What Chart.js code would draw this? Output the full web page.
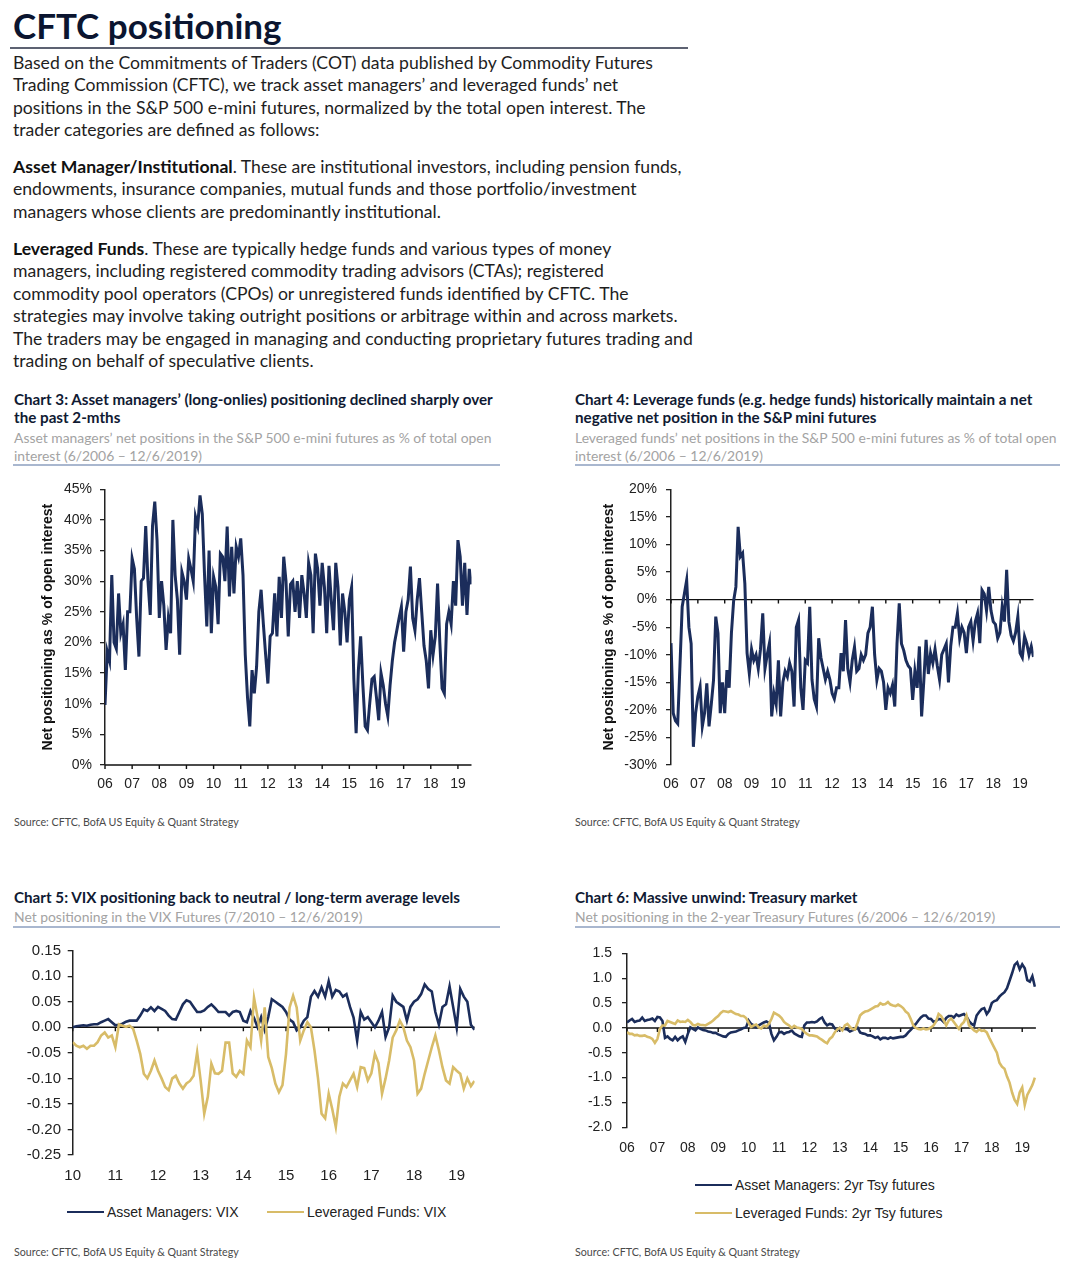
<!DOCTYPE html>
<html>
<head>
<meta charset="utf-8">
<script src="https://cdn.jsdelivr.net/npm/chart.js@4.4.1/dist/chart.umd.min.js"></script>
<style>
  body { margin: 0; background: #fff; }
  #page { position: relative; width: 1084px; height: 1280px; overflow: hidden; font-family: Lato, "Open Sans", sans-serif; color: #1a1a1a; }
  .t { position: absolute; white-space: nowrap; }
  .title { left: 13px; top: 6px; font-size: 35px; line-height: 38px; font-weight: 700; color: #0b1530; }
  .rule { position: absolute; height: 2px; background: #5d6272; }
  .body { left: 13px; font-size: 17.6px; line-height: 22.4px; color: #1e1e1e; }
  .body b { font-weight: 700; color: #111; }
  .ch { font-size: 15.2px; line-height: 18px; font-weight: 700; color: #101a33; }
  .sub { font-size: 13.9px; line-height: 18px; color: #a3a3a3; }
  .thin { position: absolute; height: 1.5px; background: #a9b7cf; }
  .src { font-size: 10.7px; color: #4a4a4a; }
  canvas { position: absolute; }
  .leg { position: absolute; white-space: nowrap; display: flex; align-items: center; font-family: "Liberation Sans", Arial, sans-serif; font-size: 14px; line-height: 18px; color: #222; }
  .sw { display: inline-block; width: 37px; height: 2.5px; margin-right: 3px; }
</style>
</head>
<body>
<div id="page">
  <div class="t title">CFTC positioning</div>
  <div class="rule" style="left:10px;top:47px;width:678px;"></div>

  <div class="t body" style="top:52px;">Based on the Commitments of Traders (COT) data published by Commodity Futures<br>Trading Commission (CFTC), we track asset managers’ and leveraged funds’ net<br>positions in the S&amp;P 500 e-mini futures, normalized by the total open interest. The<br>trader categories are defined as follows:</div>
  <div class="t body" style="top:156px;"><b>Asset Manager/Institutional</b>. These are institutional investors, including pension funds,<br>endowments, insurance companies, mutual funds and those portfolio/investment<br>managers whose clients are predominantly institutional.</div>
  <div class="t body" style="top:238px;"><b>Leveraged Funds</b>. These are typically hedge funds and various types of money<br>managers, including registered commodity trading advisors (CTAs); registered<br>commodity pool operators (CPOs) or unregistered funds identified by CFTC. The<br>strategies may involve taking outright positions or arbitrage within and across markets.<br>The traders may be engaged in managing and conducting proprietary futures trading and<br>trading on behalf of speculative clients.</div>

  <div class="t ch" style="left:14px;top:390px;">Chart 3: Asset managers’ (long-onlies) positioning declined sharply over<br>the past 2-mths</div>
  <div class="t sub" style="left:14px;top:429px;">Asset managers’ net positions in the S&amp;P 500 e-mini futures as % of total open<br>interest (6/2006 – 12/6/2019)</div>
  <div class="thin" style="left:13px;top:464px;width:487px;"></div>

  <div class="t ch" style="left:575px;top:390px;">Chart 4: Leverage funds (e.g. hedge funds) historically maintain a net<br>negative net position in the S&amp;P mini futures</div>
  <div class="t sub" style="left:575px;top:429px;">Leveraged funds’ net positions in the S&amp;P 500 e-mini futures as % of total open<br>interest (6/2006 – 12/6/2019)</div>
  <div class="thin" style="left:575px;top:464px;width:485px;"></div>

  <canvas id="c3" width="455" height="330" style="left:28px;top:470px;"></canvas>
  <canvas id="c4" width="455" height="330" style="left:590px;top:470px;"></canvas>

  <div class="t src" style="left:14px;top:815px;">Source: CFTC, BofA US Equity &amp; Quant Strategy</div>
  <div class="t src" style="left:575px;top:815px;">Source: CFTC, BofA US Equity &amp; Quant Strategy</div>

  <div class="t ch" style="left:14px;top:888px;">Chart 5: VIX positioning back to neutral / long-term average levels</div>
  <div class="t sub" style="left:14px;top:908px;">Net positioning in the VIX Futures (7/2010 – 12/6/2019)</div>
  <div class="thin" style="left:13px;top:926px;width:487px;"></div>

  <div class="t ch" style="left:575px;top:888px;">Chart 6: Massive unwind: Treasury market</div>
  <div class="t sub" style="left:575px;top:908px;">Net positioning in the 2-year Treasury Futures (6/2006 – 12/6/2019)</div>
  <div class="thin" style="left:575px;top:926px;width:485px;"></div>

  <canvas id="c5" width="475" height="255" style="left:10px;top:935px;"></canvas>
  <canvas id="c6" width="475" height="230" style="left:570px;top:935px;"></canvas>

  <div class="leg" style="left:67px;top:1203px;"><span class="sw" style="background:#1b2d5b"></span>Asset Managers: VIX</div>
  <div class="leg" style="left:267px;top:1203px;"><span class="sw" style="background:#d8bc68"></span>Leveraged Funds: VIX</div>
  <div class="leg" style="left:695px;top:1176px;"><span class="sw" style="background:#1b2d5b"></span>Asset Managers: 2yr Tsy futures</div>
  <div class="leg" style="left:695px;top:1204px;"><span class="sw" style="background:#d8bc68"></span>Leveraged Funds: 2yr Tsy futures</div>

  <div class="t src" style="left:14px;top:1245px;">Source: CFTC, BofA US Equity &amp; Quant Strategy</div>
  <div class="t src" style="left:575px;top:1245px;">Source: CFTC, BofA US Equity &amp; Quant Strategy</div>
</div>

<script>
// x axis labels (one per year, monthly data points)
const years06 = ["06","07","08","09","10","11","12","13","14","15","16","17","18","19"];
const years10 = ["10","11","12","13","14","15","16","17","18","19"];

// y axis ticks
const ticksC3 = [0, 5, 10, 15, 20, 25, 30, 35, 40, 45];
const ticksC4 = [-30, -25, -20, -15, -10, -5, 0, 5, 10, 15, 20];
const ticksC5 = [-0.25, -0.2, -0.15, -0.1, -0.05, 0, 0.05, 0.1, 0.15];
const ticksC6 = [-2, -1.5, -1, -0.5, 0, 0.5, 1, 1.5];

// Chart 3: asset managers net S&P e-mini position, % of OI (monthly from 6/2006)
const amSpx = [
  9.8, 18.5, 17, 31, 20, 19, 28, 21.5, 23, 15.5, 25, 25,
  33.7, 32, 24, 17.7, 30, 30.5, 39, 30, 24.5, 39, 43, 36.7,
  24, 30, 26, 18.8, 24, 21.5, 40, 31, 27, 18, 31.5, 30,
  27, 33.7, 32, 30, 40.5, 39, 44, 41, 31, 22.6, 35, 21.5,
  30.7, 29, 23, 34.5, 34, 30, 38.9, 27.5, 35.6, 28, 35.6, 34,
  37, 31, 18, 11, 6.3, 15.5, 11.7, 16, 25, 28.6, 23, 18,
  13.3, 21, 21.5, 28, 21, 30.7, 24, 34, 30, 21, 29.5, 30,
  25, 30, 24, 31, 28, 24, 33, 31, 21.5, 34.5, 32, 26,
  33, 29, 21.5, 32.5, 27, 22, 33, 29, 19.5, 28, 25, 20,
  27, 29, 14, 5.2, 15.5, 21, 13, 6.3, 5.7, 10, 14, 14.4,
  11, 7.3, 15, 13, 10, 8, 13, 17, 20, 22, 24, 25.8,
  18.5, 25, 27, 32.4, 24, 22, 27, 30.5, 25, 19.5, 17, 12.5,
  22, 18, 21, 29.6, 20, 12.5, 11.7, 23, 25, 23, 30, 26,
  36.7, 34, 26, 33, 24.5, 32, 29.5
];

// Chart 4: leveraged funds net S&P e-mini position, % of OI
const lfSpx = [
  -7.9, -20.6, -22, -22.5, -12, -1.3, 1.1, 3.5, -5, -8, -26.7, -20.6,
  -17.6, -15.8, -23, -20.6, -15.2, -23, -19, -14.6, -3.1, -6.1, -20.6, -15,
  -20.6, -12.8, -16, -6.1, -0.2, 2.3, 13.2, 7.8, 8.4, 2.9, -9.7, -13.4,
  -9, -11, -10, -12.5, -9, -2.5, -12.5, -10, -7.9, -21.2, -17, -19,
  -11, -21.2, -15, -13, -14, -11.5, -13, -19.4, -5, -3.7, -16, -20,
  -11, -11.5, -1.3, -14.5, -18, -19.4, -7, -10.5, -12.5, -14.5, -13, -14.5,
  -17, -18, -16, -16, -9.7, -13, -3.7, -12.5, -15, -11, -8.6, -13,
  -12.5, -10, -11, -10, -6.1, -5, -1.3, -10, -14.6, -12.5, -13, -15,
  -20, -16, -17, -15.5, -19.4, -8, -0.7, -8, -9.2, -11, -12, -12.5,
  -18.2, -13, -16, -8.5, -21.2, -14.6, -7.3, -13.5, -9.7, -11.5, -9, -12,
  -14.5, -10, -9, -8, -15, -8.5, -5, -5, -2.5, -7, -5, -6,
  -9.7, -5, -4, -7.5, -4, -2.5, -7.9, 1.7, 1, -2, 2.3, -2,
  -4, -4.5, -7, -6, -1.3, -4, 5.4, -4, -6.5, -7.5, -6, -3.1,
  -9.7, -10.5, -6.7, -8, -10, -8.5, -10.4
];

// Chart 5: VIX futures net positioning (monthly from 7/2010)
const amVix = [
  0.0, 0.002, 0.003, 0.004, 0.003, 0.005, 0.006, 0.006, 0.01, 0.013, 0.016, 0.01,
  0.004, 0.005, 0.007, 0.011, 0.013, 0.013, 0.013, 0.023, 0.035, 0.032, 0.039, 0.032,
  0.04, 0.036, 0.032, 0.023, 0.016, 0.015, 0.03, 0.045, 0.053, 0.05, 0.04, 0.03,
  0.03, 0.033, 0.04, 0.045, 0.038, 0.03, 0.03, 0.03, 0.023, 0.03, 0.032, 0.03,
  0.013, 0.01, 0.032, 0.018, 0.0, 0.02, -0.005, 0.02, 0.055, 0.05, 0.045, 0.04,
  0.03, 0.015, 0.01, -0.006, 0.0, 0.013, 0.02, 0.06, 0.071, 0.06, 0.078, 0.06,
  0.09, 0.06, 0.073, 0.07, 0.06, 0.065, 0.04, 0.019, -0.026, 0.03, 0.015, 0.02,
  0.01, 0.0, 0.013, 0.03, -0.019, 0.0, 0.062, 0.05, 0.045, 0.04, 0.013, 0.04,
  0.05, 0.055, 0.065, 0.084, 0.075, 0.07, 0.03, 0.005, 0.04, 0.045, 0.08, 0.04,
  0.0, 0.075, 0.06, 0.05, 0.005, -0.005
];
const lfVix = [
  -0.029, -0.036, -0.039, -0.036, -0.042, -0.036, -0.036, -0.029, -0.016, -0.01, -0.02, -0.016,
  -0.039, 0.006, 0.003, 0.001, 0.003, -0.003, -0.026, -0.052, -0.091, -0.1, -0.085, -0.065,
  -0.085, -0.1, -0.117, -0.123, -0.1, -0.095, -0.11, -0.12, -0.11, -0.105, -0.095, -0.049,
  -0.105, -0.169, -0.136, -0.071, -0.09, -0.091, -0.085, -0.03, -0.03, -0.09, -0.097, -0.085,
  -0.091, -0.026, -0.039, 0.058, 0.02, -0.026, 0.039, -0.058, -0.08, -0.11, -0.127, -0.113,
  -0.052, 0.039, 0.062, 0.039, -0.026, -0.006, 0.01, 0.0, -0.045, -0.1, -0.169, -0.178,
  -0.13, -0.16, -0.195, -0.136, -0.11, -0.117, -0.104, -0.091, -0.117, -0.078, -0.08, -0.104,
  -0.09, -0.052, -0.07, -0.13, -0.1, -0.065, -0.02, -0.006, 0.013, 0.0, -0.026, -0.039,
  -0.065, -0.13, -0.12, -0.091, -0.065, -0.039, -0.016, -0.045, -0.078, -0.104, -0.11, -0.078,
  -0.085, -0.091, -0.12, -0.1, -0.115, -0.105
];

// Chart 6: 2yr Treasury futures net positioning (monthly from 6/2006)
const amTsy = [
  0.11, 0.15, 0.18, 0.12, 0.14, 0.15, 0.21, 0.14, 0.16, 0.17, 0.19, 0.14,
  0.22, 0.21, 0.14, -0.2, -0.17, -0.22, -0.25, -0.18, -0.25, -0.2, -0.17, -0.28,
  -0.12, 0.01, -0.02, -0.05, 0.01, -0.02, -0.04, -0.05, -0.07, -0.08, -0.1, -0.1,
  -0.13, -0.15, -0.17, -0.18, -0.12, -0.09, -0.08, -0.07, -0.05, -0.03, 0.0, 0.01,
  0.15, 0.08, 0.05, 0.01, 0.05, 0.08, 0.11, 0.13, 0.1, -0.12, -0.25, -0.18,
  -0.09, -0.08, -0.12, -0.09, -0.08, -0.05, -0.11, -0.14, -0.17, -0.18, 0.05, 0.11,
  0.11, 0.12, 0.11, 0.13, 0.18, 0.21, 0.11, 0.05, 0.08, 0.07, -0.01, -0.05,
  0.0, -0.02, -0.02, -0.03, -0.07, -0.05, -0.03, 0.01, -0.09, -0.11, -0.12, -0.15,
  -0.15, -0.17, -0.2, -0.18, -0.23, -0.2, -0.2, -0.22, -0.19, -0.21, -0.2, -0.19,
  -0.18, -0.18, -0.15, -0.09, -0.04, 0.02, 0.08, 0.15, 0.21, 0.25, 0.25, 0.19,
  0.18, 0.12, 0.14, 0.18, 0.17, 0.12, 0.2, 0.24, 0.24, 0.21, 0.27, 0.24,
  0.26, 0.28, 0.23, 0.14, 0.08, 0.05, 0.25, 0.32, 0.38, 0.4, 0.28, 0.35,
  0.5, 0.54, 0.56, 0.63, 0.68, 0.72, 0.8, 0.95, 1.1, 1.27, 1.32, 1.18,
  1.28, 1.2, 0.96, 0.93, 1.04, 0.83
];
const lfTsy = [
  -0.08, -0.12, -0.12, -0.15, -0.14, -0.16, -0.16, -0.15, -0.18, -0.19, -0.22, -0.3,
  -0.22, -0.02, 0.05, 0.05, 0.14, 0.12, 0.1, 0.08, 0.15, 0.12, 0.13, 0.12,
  0.16, 0.12, 0.06, 0.05, 0.08, 0.06, 0.06, 0.05, 0.08, 0.11, 0.15, 0.2,
  0.24, 0.3, 0.34, 0.33, 0.32, 0.34, 0.31, 0.28, 0.27, 0.24, 0.24, 0.2,
  0.1, 0.02, 0.05, 0.07, 0.01, -0.01, 0.05, 0.03, 0.08, 0.18, 0.31, 0.28,
  0.25, 0.2, 0.12, 0.08, 0.05, 0.0, 0.04, 0.01, 0.0, -0.02, -0.08, -0.12,
  -0.15, -0.15, -0.16, -0.17, -0.21, -0.24, -0.28, -0.31, -0.22, -0.18, -0.09, -0.03,
  0.0, -0.05, 0.05, 0.08, 0.02, -0.02, -0.03, 0.1, 0.25, 0.3, 0.33, 0.34,
  0.37, 0.4, 0.43, 0.44, 0.5, 0.47, 0.48, 0.52, 0.47, 0.45, 0.44, 0.47,
  0.44, 0.4, 0.33, 0.29, 0.18, 0.05, 0.0, -0.02, -0.03, -0.01, -0.03, -0.02,
  0.01, 0.05, 0.13, 0.28, 0.24, 0.15, 0.05, 0.15, 0.19, 0.12, 0.05, -0.02,
  0.07, 0.12, 0.25, 0.05, 0.0, -0.05, -0.08, -0.03, -0.06, -0.05, -0.09, -0.2,
  -0.3, -0.4, -0.5, -0.7, -0.78, -0.82, -0.98, -1.1, -1.3, -1.45, -1.53, -1.3,
  -1.2, -1.55, -1.35, -1.25, -1.15, -1.0
];

const NAVY = "#1b2d5b";
const GOLD = "#d8bc68";

Chart.defaults.font.family = "'Liberation Sans', Arial, sans-serif";
Chart.defaults.color = "#222";

// horizontal line at y = 0 with little year ticks hanging below it
const zeroLine = {
  id: "zeroLine",
  beforeDatasetsDraw(chart, args, opts) {
    const { ctx, chartArea, scales } = chart;
    const py = scales.y.getPixelForValue(0);
    ctx.save();
    ctx.strokeStyle = "#111";
    ctx.lineWidth = 1.4;
    ctx.beginPath();
    ctx.moveTo(chartArea.left, py);
    ctx.lineTo(chartArea.right, py);
    (opts.ticks || []).forEach(v => {
      const px = scales.x.getPixelForValue(v);
      ctx.moveTo(px, py);
      ctx.lineTo(px, py + 4);
    });
    ctx.stroke();
    ctx.restore();
  }
};

function makeChart(id, cfg) {
  const font = { size: cfg.fontSize || 14 };
  return new Chart(document.getElementById(id), {
    type: "line",
    data: {
      datasets: cfg.series.map(s => ({
        data: s.values.map((v, i) => ({ x: i / 12, y: v })),
        borderColor: s.color,
        borderWidth: s.width,
        pointRadius: 0,
        tension: 0,
        fill: false
      }))
    },
    options: {
      responsive: false,
      animation: false,
      layout: { padding: cfg.pad },
      plugins: {
        legend: { display: false },
        tooltip: { enabled: false },
        zeroLine: { ticks: cfg.xLabels.map((_, i) => i) }
      },
      scales: {
        x: {
          type: "linear",
          min: 0,
          max: cfg.xMax,
          afterBuildTicks: s => { s.ticks = cfg.xLabels.map((_, i) => ({ value: i })); },
          afterFit: s => { s.height = cfg.xH; },
          grid: { display: false, drawTicks: false },
          border: { display: false },
          ticks: { callback: v => cfg.xLabels[v], padding: cfg.xPad, autoSkip: false, maxRotation: 0, font: font }
        },
        y: {
          min: cfg.yTicks[0],
          max: cfg.yTicks[cfg.yTicks.length - 1],
          afterBuildTicks: s => { s.ticks = cfg.yTicks.map(v => ({ value: v })); },
          afterFit: s => { s.width = cfg.yW; },
          grid: { drawOnChartArea: false, drawTicks: true, tickLength: 5, color: "#222", lineWidth: 1.3 },
          border: { display: true, color: "#222", width: 1.5 },
          ticks: { callback: cfg.yFmt, padding: cfg.yPad, autoSkip: false, font: font },
          title: cfg.yTitle
            ? { display: true, text: cfg.yTitle, color: "#111", font: { size: 14, weight: "bold" }, padding: { top: cfg.titlePad, bottom: 0 } }
            : { display: false }
        }
      }
    },
    plugins: [zeroLine]
  });
}

makeChart("c3", {
  series: [{ values: amSpx, color: NAVY, width: 3 }],
  xLabels: years06, xMax: 13.5, xH: 35, xPad: 11,
  yTicks: ticksC3, yFmt: v => v + "%", yW: 77, yPad: 8,
  yTitle: "Net positioning as % of open interest", titlePad: 11.6,
  pad: { top: 19.3, right: 11.5, left: 0, bottom: 0 }
});

makeChart("c4", {
  series: [{ values: lfSpx, color: NAVY, width: 3 }],
  xLabels: years06, xMax: 13.5, xH: 35, xPad: 11,
  yTicks: ticksC4, yFmt: v => v + "%", yW: 81, yPad: 9,
  yTitle: "Net positioning as % of open interest", titlePad: 10.6,
  pad: { top: 19.3, right: 11.5, left: 0, bottom: 0 }
});

makeChart("c5", {
  series: [
    { values: lfVix, color: GOLD, width: 2.6 },
    { values: amVix, color: NAVY, width: 2.6 }
  ],
  xLabels: years10, xMax: 9.42, xH: 35, xPad: 12, fontSize: 15,
  yTicks: ticksC5, yFmt: v => v.toFixed(2), yW: 62.7, yPad: 6.7,
  pad: { top: 14.3, right: 10.4, left: 0, bottom: 0 }
});

makeChart("c6", {
  series: [
    { values: lfTsy, color: GOLD, width: 2.6 },
    { values: amTsy, color: NAVY, width: 2.6 }
  ],
  xLabels: years06, xMax: 13.45, xH: 37.7, xPad: 12,
  yTicks: ticksC6, yFmt: v => v.toFixed(1), yW: 57, yPad: 10,
  pad: { top: 14.3, right: 9.1, left: 0, bottom: 0 }
});
</script>
</body>
</html>
